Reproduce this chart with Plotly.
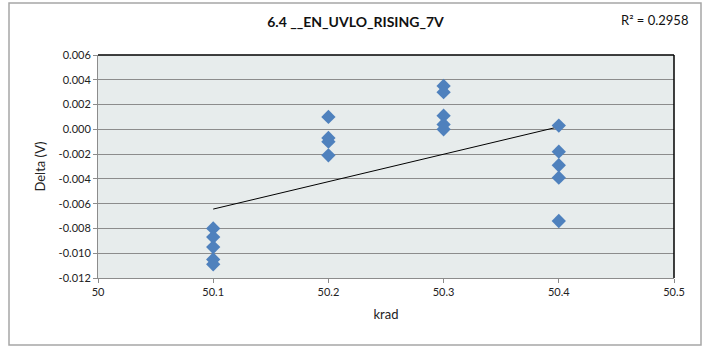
import numpy as np
import plotly.graph_objects as go

krad = [50.1] * 5 + [50.2] * 4 + [50.3] * 5 + [50.4] * 5
delta = [
    -0.0080, -0.0087, -0.0095, -0.0105, -0.0109,
    0.0010, -0.0007, -0.0010, -0.0021,
    0.0035, 0.0030, 0.0011, 0.0004, 0.0000,
    0.0003, -0.0018, -0.0029, -0.0039, -0.0074,
]
x_ticks = [50, 50.1, 50.2, 50.3, 50.4, 50.5]
x_labels = ["50", "50.1", "50.2", "50.3", "50.4", "50.5"]
y_ticks = [0.006, 0.004, 0.002, 0.0, -0.002, -0.004, -0.006, -0.008, -0.010, -0.012]
y_labels = ["0.006", "0.004", "0.002", "0.000", "-0.002", "-0.004",
            "-0.006", "-0.008", "-0.010", "-0.012"]
title = "6.4 __EN_UVLO_RISING_7V"
r2_text = "R² = 0.2958"

# linear trendline
slope, icpt = np.polyfit(krad, delta, 1)
tx = [min(krad), max(krad)]
ty = [slope * v + icpt for v in tx]

FONT = "Lato, 'Open Sans', sans-serif"

fig = go.Figure()
fig.add_trace(go.Scatter(
    x=tx, y=ty, mode="lines",
    line=dict(color="black", width=1),
    hoverinfo="skip", showlegend=False))
fig.add_trace(go.Scatter(
    x=krad, y=delta, mode="markers",
    marker=dict(symbol="diamond", size=11, color="#4F81BD",
                line=dict(width=0)),
    showlegend=False))

W, H = 704, 348
L, R, T, B = 98, 30, 55, 70
pw, ph = W - L - R, H - T - B


def px(x):
    return (x - L) / pw


def py(y):
    return (H - B - y) / ph


fig.update_layout(
    width=W, height=H,
    margin=dict(l=L, r=R, t=T, b=B),
    paper_bgcolor="white",
    plot_bgcolor="#E7ECEC",
    font=dict(family=FONT, size=11, color="#222"),
    title=dict(text="<b>" + title + "</b>", x=0.505, xanchor="center",
               y=1 - 22 / H, yanchor="middle",
               font=dict(size=14, color="#111", family=FONT)),
    xaxis=dict(
        range=[50, 50.5], tickvals=x_ticks, ticktext=x_labels,
        showgrid=False, zeroline=False,
        showline=True, linecolor="#8C8C8C", linewidth=1,
        ticks="outside", ticklen=4, tickcolor="#8C8C8C",
        title=dict(text="krad", font=dict(size=13, color="#222"), standoff=12),
        tickfont=dict(size=11),
    ),
    yaxis=dict(
        range=[-0.012, 0.006], tickvals=y_ticks, ticktext=y_labels,
        showgrid=True, gridcolor="#8C8C8C", gridwidth=1, zeroline=False,
        showline=True, linecolor="#8C8C8C", linewidth=1,
        ticks="outside", ticklen=4, tickcolor="#8C8C8C",
        title=dict(text="Delta (V)", font=dict(size=13, color="#222"), standoff=10),
        tickfont=dict(size=11),
    ),
    shapes=[
        # outer chart border
        dict(type="rect", xref="paper", yref="paper",
             x0=px(9), x1=px(701), y0=py(345), y1=py(3),
             line=dict(color="#A6A6A6", width=1.5), layer="below"),
        # top and right edges of plot area
        dict(type="line", xref="paper", yref="paper", x0=0, x1=1, y0=1, y1=1,
             line=dict(color="black", width=1.5)),
        dict(type="line", xref="paper", yref="paper", x0=1, x1=1, y0=0, y1=1,
             line=dict(color="black", width=1.5)),
    ],
    annotations=[
        dict(text=r2_text, xref="paper", yref="paper",
             x=px(690), y=py(20), xanchor="right", yanchor="middle",
             showarrow=False, font=dict(size=13, color="#111", family=FONT)),
    ],
)

fig.write_html("out.html",
               config={"displayModeBar": False},
               post_script="document.body.style.margin='0';"
                           "document.body.style.overflow='hidden';")
